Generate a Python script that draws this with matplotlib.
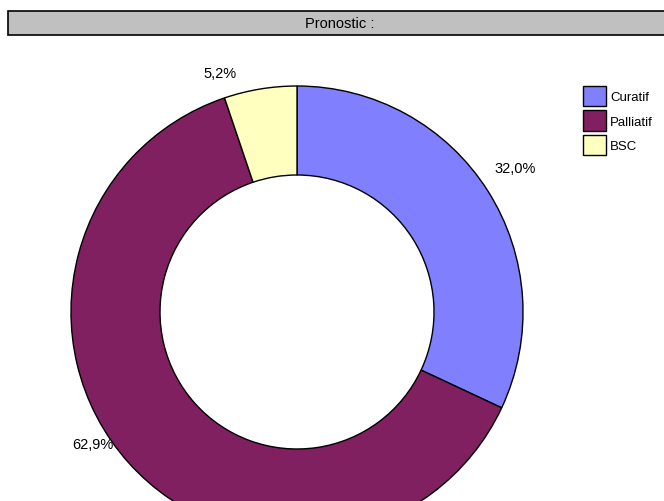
import numpy as np
import matplotlib
matplotlib.use('Agg')
import matplotlib.pyplot as plt
from matplotlib.patches import Rectangle

plt.rcParams['font.family'] = ['Liberation Sans', 'DejaVu Sans']

categories = ['Curatif', 'Palliatif', 'BSC']
values = [32.0, 62.9, 5.2]
pct_labels = ['32,0%', '62,9%', '5,2%']
colors = ['#8080FF', '#802060', '#FFFFC0']
title = 'Pronostic :'

W, H = 664, 502
fig = plt.figure(figsize=(W / 100, H / 100), dpi=100)
ax = fig.add_axes([0, 0, 1, 1])

# donut, centre and radius in pixels
cx, cy, R = 297, H - 313, 226
wedges, _ = ax.pie(values, colors=colors, startangle=90, counterclock=False,
                   center=(cx, cy), radius=R,
                   wedgeprops=dict(width=89, edgecolor='black', linewidth=1))
ax.set_xlim(0, W)
ax.set_ylim(0, H)
ax.set_aspect('auto')
ax.axis('off')

# percent labels, offset from the outer middle of each wedge
offsets = [(27, 23), (-36, 19), (-40, 16)]
for w, lab, off in zip(wedges, pct_labels, offsets):
    ang = np.deg2rad((w.theta1 + w.theta2) / 2)
    x = cx + R * np.cos(ang)
    y = cy + R * np.sin(ang)
    ax.annotate(lab, (x, y), xytext=off, textcoords='offset pixels',
                ha='center', va='center', fontsize=10.5)

# title box
ax.add_patch(Rectangle((8, H - 36), 664, 24, facecolor='#C0C0C0',
                       edgecolor='black', linewidth=1.2, clip_on=False))
ax.text(8 + 664 / 2, H - 24, title, ha='center', va='center', fontsize=10.5)

fig.legend(wedges, categories, loc='upper left',
           bbox_to_anchor=(583 / W, 1 - 87 / H), frameon=False,
           fontsize=9.5, handlelength=1.75, handleheight=2.0,
           labelspacing=0.3, handletextpad=0.3,
           borderpad=0, borderaxespad=0)

fig.savefig('out.png', dpi=100)
